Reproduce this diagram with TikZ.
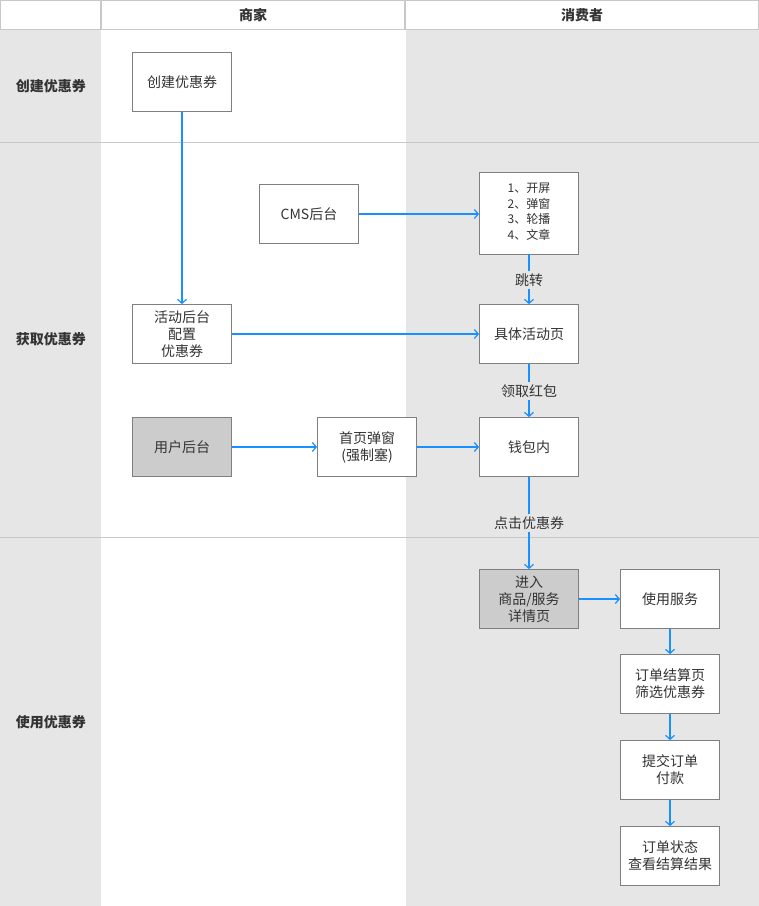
\documentclass[tikz,border=0pt]{standalone}
\usepackage{fontspec}
\setmainfont{Noto Sans CJK SC}
\usetikzlibrary{arrows.meta}
\definecolor{lanebg}{HTML}{E6E6E6}
\definecolor{gridline}{HTML}{C8C8C8}
\definecolor{boxline}{HTML}{7F7F7F}
\definecolor{txt}{HTML}{333333}
\definecolor{flow}{HTML}{1890FF}
\definecolor{darkfill}{HTML}{CCCCCC}
\tikzset{
  box/.style={draw=boxline, line width=0.8pt, fill=white, minimum width=99pt, minimum height=59pt,
    inner sep=1pt, align=center, text=txt, font=\fontsize{14}{17}\selectfont},
  darkbox/.style={box, fill=darkfill},
  flowarrow/.style={draw=flow, line width=1.5pt, -{Straight Barb[length=4pt,width=9pt,line width=1.2pt]}},
  flowline/.style={draw=flow, line width=1.5pt},
  elabel/.style={fill=lanebg, text=txt, font=\fontsize{14}{17}\selectfont, inner sep=2pt},
  lanelabel/.style={text=txt, font=\bfseries\fontsize{14}{17}\selectfont},
  headcell/.style={draw=gridline, line width=0.8pt, fill=white, text=txt, font=\bfseries\fontsize{14}{17}\selectfont}
}
\begin{document}
\begin{tikzpicture}[x=1pt,y=-1pt]
\useasboundingbox (0,0) rectangle (759,906);
% lanes
\fill[white] (0,0) rectangle (759,906);
\fill[lanebg] (0,30) rectangle (101,906);
\fill[lanebg] (406,30) rectangle (759,906);
\draw[gridline, line width=0.8pt] (0,142.5) -- (759,142.5);
\draw[gridline, line width=0.8pt] (0,537.5) -- (759,537.5);
% header
\node[headcell, minimum width=100pt, minimum height=29pt] (h0) at (50.5,15) {};
\node[headcell, minimum width=303pt, minimum height=29pt] (h1) at (253,15) {商家};
\node[headcell, minimum width=353pt, minimum height=29pt] (h2) at (582,15) {消费者};
% lane labels
\node[lanelabel] (l1) at (51,86) {创建优惠券};
\node[lanelabel] (l2) at (51,339) {获取优惠券};
\node[lanelabel] (l3) at (51,722) {使用优惠券};
% nodes
\node[box] (create) at (182,82) {创建优惠券};
\node[box] (cms) at (309,214) {CMS后台};
\node[box, minimum height=82pt, font=\fontsize{12}{15.5}\selectfont] (list) at (529,213)
  {\begin{tabular}{@{}l@{}}1、开屏\\2、弹窗\\3、轮播\\4、文章\end{tabular}};
\node[box] (act) at (182,334) {活动后台\\配置\\优惠券};
\node[box] (page) at (529,334) {具体活动页};
\node[darkbox] (user) at (182,447) {用户后台};
\node[box] (popup) at (367,447) {首页弹窗\\(强制塞)};
\node[box] (wallet) at (529,447) {钱包内};
\node[darkbox] (detail) at (529,599) {进入\\商品/服务\\详情页};
\node[box] (use) at (670,599) {使用服务};
\node[box] (settle) at (670,684) {订单结算页\\筛选优惠券};
\node[box] (pay) at (670,770) {提交订单\\付款};
\node[box] (status) at (670,856) {订单状态\\查看结算结果};
% edge labels
\node[elabel] (j1) at (529,280) {跳转};
\node[elabel] (j2) at (529,391) {领取红包};
\node[elabel] (j3) at (529,523) {点击优惠券};
% connectors
\draw[flowarrow] (create) -- (act);
\draw[flowarrow] (cms) -- (list.west |- cms);
\draw[flowline] (list) -- (j1);
\draw[flowarrow] (j1) -- (page);
\draw[flowarrow] (act) -- (page);
\draw[flowline] (page) -- (j2);
\draw[flowarrow] (j2) -- (wallet);
\draw[flowarrow] (user) -- (popup);
\draw[flowarrow] (popup) -- (wallet);
\draw[flowline] (wallet) -- (j3);
\draw[flowarrow] (j3) -- (detail);
\draw[flowarrow] (detail) -- (use);
\draw[flowarrow] (use) -- (settle);
\draw[flowarrow] (settle) -- (pay);
\draw[flowarrow] (pay) -- (status);
\end{tikzpicture}
\end{document}
